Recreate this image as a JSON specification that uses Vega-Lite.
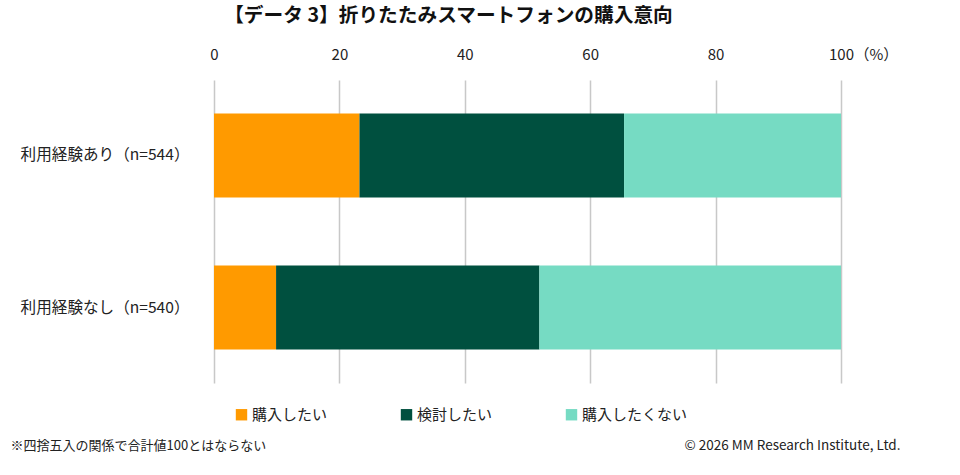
{
  "$schema": "https://vega.github.io/schema/vega-lite/v6.json",
  "autosize": {"type": "none"},
  "width": 627,
  "height": 303,
  "padding": {"left": 214, "top": 80, "right": 119, "bottom": 92},
  "background": "white",
  "config": {
    "font": "Noto Sans CJK JP",
    "view": {"stroke": null}
  },
  "title": {
    "text": "【データ 3】折りたたみスマートフォンの購入意向",
    "fontSize": 19.7,
    "fontWeight": "bold",
    "color": "#111111",
    "anchor": "middle",
    "frame": "group",
    "dx": -79,
    "offset": 21
  },
  "resolve": {"scale": {"x": "independent", "y": "independent"}, "axis": {"x": "independent", "y": "independent"}},
  "layer": [
    {
      "data": {"values": [
        {"group": "利用経験あり（n=544）", "answer": "購入したい", "pct": 23.2},
        {"group": "利用経験あり（n=544）", "answer": "検討したい", "pct": 42.2},
        {"group": "利用経験あり（n=544）", "answer": "購入したくない", "pct": 34.6},
        {"group": "利用経験なし（n=540）", "answer": "購入したい", "pct": 9.9},
        {"group": "利用経験なし（n=540）", "answer": "検討したい", "pct": 42.0},
        {"group": "利用経験なし（n=540）", "answer": "購入したくない", "pct": 48.1}
      ]},
      "transform": [
        {"calculate": "indexof(['購入したい','検討したい','購入したくない'], datum.answer)", "as": "ord"}
      ],
      "mark": {"type": "bar"},
      "encoding": {
        "y": {
          "field": "group", "type": "nominal", "sort": null,
          "scale": {"paddingInner": 0.447, "paddingOuter": 0.22},
          "axis": {"title": null, "orient": "left", "domain": false, "ticks": false, "tickSize": 0, "labelPadding": 25, "labelFontSize": 15.6, "labelColor": "#222222", "labelFont": "Noto Sans CJK JP"}
        },
        "x": {
          "field": "pct", "type": "quantitative", "stack": "zero",
          "scale": {"domain": [0, 100], "nice": false},
          "axis": {
            "orient": "top", "values": [0, 20, 40, 60, 80, 100], "domain": false, "ticks": false, "tickSize": 0,
            "labelPadding": 18, "labelFontSize": 15, "labelColor": "#222222", "labelFlush": false,
            "grid": true, "gridColor": "#c8c8c8", "gridWidth": 1.5,
            "title": "（%）", "titleFontSize": 15, "titleFontWeight": "normal", "titleColor": "#222222",
            "titleX": 640, "titleY": -26, "titleAlign": "left", "titleBaseline": "middle", "titleAnchor": null
          }
        },
        "color": {
          "field": "answer", "type": "nominal",
          "sort": ["購入したい", "検討したい", "購入したくない"],
          "scale": {"domain": ["購入したい", "検討したい", "購入したくない"], "range": ["#FF9A00", "#00503F", "#76DBC3"]},
          "legend": {
            "title": null, "orient": "none", "direction": "horizontal", "legendX": 20, "legendY": 327,
            "symbolType": "square", "symbolSize": 130, "symbolStrokeWidth": 0, "symbolOpacity": 1,
            "labelFontSize": 15, "labelColor": "#222222", "labelOffset": 3, "columnPadding": 71
          }
        },
        "order": {"field": "ord", "type": "quantitative", "sort": "ascending"}
      }
    },
    {
      "data": {"values": [{"v": 0}]},
      "mark": {"type": "point", "opacity": 0},
      "encoding": {
        "x": {
          "field": "v", "type": "quantitative",
          "axis": {
            "orient": "bottom", "labels": false, "ticks": false, "domain": false, "grid": false,
            "title": "※四捨五入の関係で合計値100とはならない", "titleFontSize": 13, "titleFontWeight": "normal", "titleColor": "#222222",
            "titleX": -204, "titleY": 62, "titleAlign": "left", "titleBaseline": "middle", "titleAnchor": null
          }
        },
        "y": {
          "field": "v", "type": "quantitative",
          "axis": {
            "orient": "right", "labels": false, "ticks": false, "domain": false, "grid": false,
            "title": "© 2026 MM Research Institute, Ltd.", "titleFontSize": 13.5, "titleFontWeight": "normal", "titleColor": "#222222",
            "titleAngle": 0, "titleX": 59, "titleY": 365, "titleAlign": "right", "titleBaseline": "middle", "titleAnchor": null
          }
        }
      }
    }
  ]
}
